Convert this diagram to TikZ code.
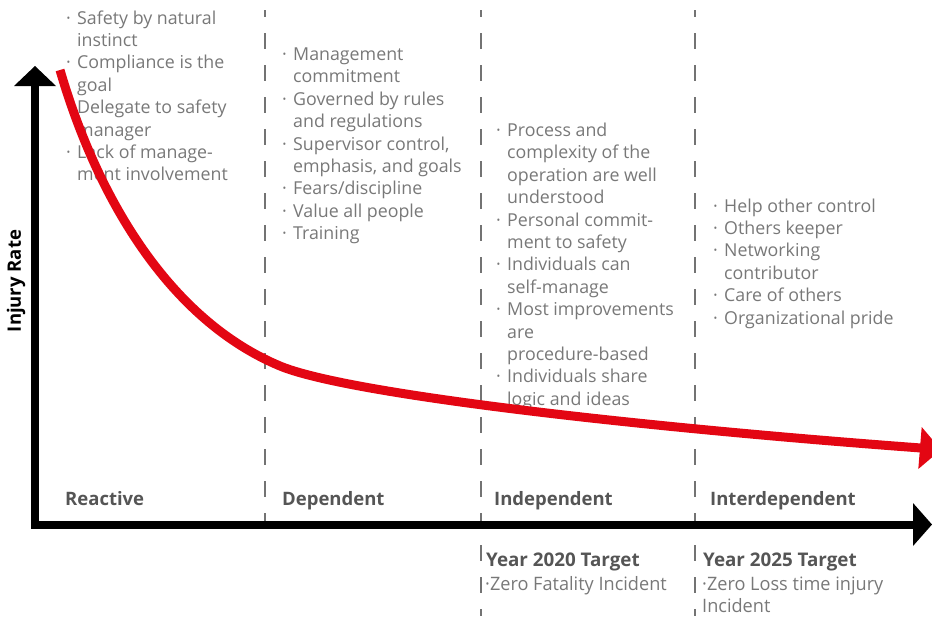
\documentclass[tikz,border=0pt]{standalone}
\usepackage{fontspec}
\setmainfont{Open Sans}
\newfontfamily\condfont[FakeStretch=0.98]{Open Sans}
\definecolor{txtgray}{RGB}{120,120,120}
\definecolor{lblgray}{RGB}{85,85,85}
\definecolor{curvered}{RGB}{227,6,19}
\definecolor{dashgray}{RGB}{115,115,115}
\newcommand\mybul{\makebox[11pt][l]{·}}
\newcommand\myind{\makebox[11pt]{}}
\tikzset{
  dashline/.style={draw=dashgray, line width=1.2pt, dash pattern=on 16pt off 16pt, dash phase=9pt},
  axisline/.style={line width=8pt, line join=miter, black},
  redcurve/.style={draw=curvered, line width=9pt},
  coltext/.style={anchor=base west, align=left, inner sep=0pt, text=txtgray, font=\fontsize{17.8}{22.4}\selectfont},
  stage/.style={anchor=base west, inner sep=0pt, text=lblgray, font=\bfseries\fontsize{18.5}{20}\selectfont},
  target/.style={anchor=base west, inner sep=0pt, text=lblgray, font=\bfseries\fontsize{18.8}{20}\selectfont},
  targettext/.style={anchor=base west, align=left, inner sep=0pt, text=txtgray, font=\condfont\fontsize{18.5}{22}\selectfont},
}
\begin{document}
\begin{tikzpicture}[x=1pt,y=-1pt]
\useasboundingbox (0,0) rectangle (932,616);
\clip (0,0) rectangle (932,616);
% dashed separators
\draw[dashline] (265,10) -- (265,525);
\draw[dashline] (481,10) -- (481,616);
\draw[dashline] (695,10) -- (695,616);
% column texts (anchored at the baseline of their last line)
\node[coltext] (c1) at (66,180.8) {\mybul Safety by natural\\\myind instinct\\\mybul Compliance is the\\\myind goal\\\mybul Delegate to safety\\\myind manager\\\mybul Lack of manage-\\\myind ment involvement};
\node[coltext] (c2) at (282,239.7) {\mybul Management\\\myind commitment\\\mybul Governed by rules\\\myind and regulations\\\mybul Supervisor control,\\\myind emphasis, and goals\\\mybul Fears/discipline\\\mybul Value all people\\\mybul Training};
\node[coltext] (c3) at (496,405.3) {\mybul Process and\\\myind complexity of the\\\myind operation are well\\\myind understood\\\mybul Personal commit-\\\myind ment to safety\\\mybul Individuals can\\\myind self-manage\\\mybul Most improvements\\\myind are\\\myind procedure-based\\\mybul Individuals share\\\myind logic and ideas};
\node[coltext] (c4) at (713,324) {\mybul Help other control\\\mybul Others keeper\\\mybul Networking\\\myind contributor\\\mybul Care of others\\\mybul Organizational pride};
% red curve
\coordinate (r0) at (60,70);
\coordinate (r1) at (280,366);
\coordinate (r2) at (921,448);
\draw[redcurve] (r0) .. controls (98,200) and (170,320) .. (r1) .. controls (350,395) and (650,428) .. (r2);
\fill[curvered] (921.7,427) -- (941,449.7) -- (918.3,469) -- cycle;
% axes
\draw[axisline] (35,84) -- (35,525) -- (915,525);
\fill[black] (14,86) -- (35,66) -- (56,86) -- cycle;
\fill[black] (913,503) -- (932,524.5) -- (913,546) -- cycle;
\node[rotate=90, inner sep=0pt, font=\bfseries\fontsize{18.5}{20}\selectfont] (ylab) at (16,281) {Injury Rate};
% stage labels
\node[stage] (s1) at (65,505) {Reactive};
\node[stage] (s2) at (282,505) {Dependent};
\node[stage] (s3) at (494,505) {Independent};
\node[stage] (s4) at (710,505) {Interdependent};
% targets
\node[target] (t1) at (486,566) {Year 2020 Target};
\node[targettext] (t1a) at (485,590) {·Zero Fatality Incident};
\node[target] (t2) at (703,566) {Year 2025 Target};
\node[targettext] (t2a) at (702,612) {·Zero Loss time injury\\Incident};
\end{tikzpicture}
\end{document}
